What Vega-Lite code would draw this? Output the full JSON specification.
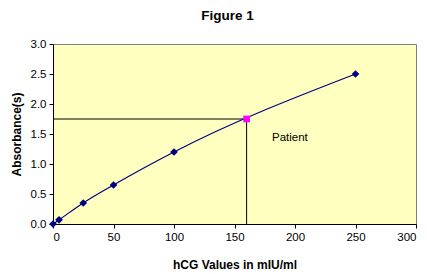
{
  "$schema": "https://vega.github.io/schema/vega-lite/v6.json",
  "width": 363,
  "height": 180,
  "autosize": {"type": "none"},
  "padding": {"left": 53, "top": 44, "right": 11, "bottom": 50},
  "background": "white",
  "title": {"text": "Figure 1", "font": "Liberation Sans", "fontSize": 13.5, "fontWeight": "bold", "color": "black", "offset": 16, "dx": -7},
  "config": {
    "view": {"fill": "#FFFFC0", "stroke": "#808080", "strokeWidth": 1},
    "axis": {"labelFont": "Liberation Sans", "labelFontSize": 11.5, "labelColor": "black", "titleFont": "Liberation Sans", "titleFontSize": 12, "titleFontWeight": "bold", "titleColor": "black", "domainColor": "black", "tickColor": "black", "grid": false, "tickSize": 4}
  },
  "datasets": {
    "curve": [
      {"hcg": 0, "abs": 0},
      {"hcg": 5, "abs": 0.07},
      {"hcg": 25, "abs": 0.35},
      {"hcg": 50, "abs": 0.65},
      {"hcg": 100, "abs": 1.2},
      {"hcg": 250, "abs": 2.5}
    ],
    "guide": [
      {"hcg": 0, "abs": 1.75, "o": 0},
      {"hcg": 160, "abs": 1.75, "o": 1},
      {"hcg": 160, "abs": 0, "o": 2}
    ],
    "patient": [{"hcg": 160, "abs": 1.75, "label": "Patient", "lx": 181, "ly": 1.43}]
  },
  "encoding": {
    "x": {"field": "hcg", "type": "quantitative", "scale": {"domain": [0, 300], "nice": false, "zero": false}, "axis": {"values": [0, 50, 100, 150, 200, 250, 300], "format": "d", "title": "hCG Values in mIU/ml", "titlePadding": 17, "labelPadding": 3}},
    "y": {"field": "abs", "type": "quantitative", "scale": {"domain": [0, 3], "nice": false}, "axis": {"values": [0, 0.5, 1, 1.5, 2, 2.5, 3], "format": ".1f", "title": "Absorbance(s)", "titlePadding": 7, "labelPadding": 3}}
  },
  "layer": [
    {
      "data": {"name": "guide"},
      "mark": {"type": "line", "color": "black", "strokeWidth": 1},
      "encoding": {"order": {"field": "o"}}
    },
    {
      "data": {"name": "curve"},
      "mark": {"type": "line", "color": "#000080", "strokeWidth": 1.2, "interpolate": "monotone"}
    },
    {
      "data": {"name": "curve"},
      "mark": {"type": "point", "shape": "diamond", "filled": true, "color": "#000080", "size": 60, "opacity": 1}
    },
    {
      "data": {"name": "patient"},
      "mark": {"type": "square", "color": "#FF00FF", "size": 45, "opacity": 1}
    },
    {
      "data": {"name": "patient"},
      "mark": {"type": "text", "font": "Liberation Sans", "fontSize": 11.5, "align": "left", "baseline": "middle", "color": "black"},
      "encoding": {"x": {"field": "lx", "type": "quantitative"}, "y": {"field": "ly", "type": "quantitative"}, "text": {"field": "label"}}
    }
  ]
}
